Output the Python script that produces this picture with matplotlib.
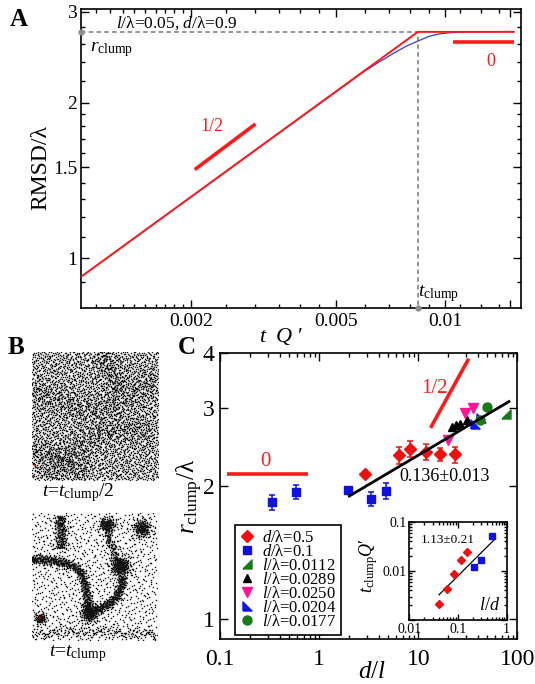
import numpy as np
import matplotlib
matplotlib.use("Agg")
import matplotlib.pyplot as plt
from matplotlib.ticker import NullFormatter, NullLocator, LogLocator

plt.rcParams['font.family'] = ['Liberation Serif', 'DejaVu Serif']
plt.rcParams['mathtext.fontset'] = 'custom'
plt.rcParams['mathtext.rm'] = 'Liberation Serif'
plt.rcParams['mathtext.it'] = 'Liberation Serif:italic'
plt.rcParams['mathtext.bf'] = 'Liberation Serif:bold'

# ---------------- panel A data ----------------
red_t = [0.001, 0.0084, 0.0154]
red_r = [0.921, 2.74, 2.74]
blue_t = [0.001, 0.0060, 0.0066, 0.0072, 0.0078, 0.0084, 0.0090, 0.0096, 0.0103, 0.0115, 0.0154]
blue_r = [0.921, 2.30, 2.40, 2.49, 2.57, 2.63, 2.685, 2.715, 2.73, 2.74, 2.745]
t_clump, r_clump = 0.0084, 2.74
A_half_t = [0.00205, 0.00301]
A_half_r = [1.484, 1.818]
A_zero_t = [0.0105, 0.0154]
A_zero_r = [2.614, 2.614]
A_xlim = (0.001, 0.0161)
A_ylim = (0.8, 3.03)
A_xticks = [0.002, 0.005, 0.01, 0.015]
A_xticklabels = ['0.002', '0.005', '0.01', '']
A_xminor = [0.0011, 0.0012, 0.0013, 0.0014, 0.0015, 0.0016, 0.0017, 0.0018, 0.0019,
            0.0025, 0.003, 0.0035, 0.004, 0.0045, 0.006, 0.007, 0.008, 0.009,
            0.011, 0.0125, 0.014]
A_yticks = [1, 1.5, 2, 3]
A_yticklabels = ['1', '1.5', '2', '3']
A_yminor = [0.9, 1.1, 1.2, 1.3, 1.4, 1.6, 1.7, 1.8, 1.9, 2.2, 2.4, 2.6, 2.8]

# ---------------- panel C data ----------------
d05_x = [2.89, 6.38, 8.24, 11.9, 16.7, 23.6]
d05_y = [2.13, 2.35, 2.43, 2.39, 2.36, 2.36]
d05_err = [0.0, 0.11, 0.10, 0.10, 0.08, 0.10]
d01_x = [0.335, 0.582, 1.96, 3.33, 4.72]
d01_y = [1.84, 1.94, 1.96, 1.87, 1.95]
d01_err = [0.07, 0.07, 0.0, 0.07, 0.08]
l0112_x = [76.9]
l0112_y = [2.91]
l0289_x = [21.7, 24.0, 26.4, 31.3]
l0289_y = [2.73, 2.752, 2.76, 2.825]
l0250_x = [20.1, 29.6, 36.0]
l0250_y = [2.548, 2.925, 3.0]
l0204_x = [37.4, 43.0]
l0204_y = [2.762, 2.849]
l0177_x = [42.0, 49.1]
l0177_y = [2.825, 3.026]
fit_x = [2.01, 82.4]
fit_y = [1.90, 3.11]
C_zero_x = [0.116, 0.763]
C_zero_y = [2.13, 2.13]
C_half_x = [13.3, 32.3]
C_half_y = [2.71, 3.89]
C_xlim = (0.1, 100)
C_ylim = (0.9, 4)
C_yticks = [1, 2, 3, 4]

# inset data
ins_red_x = [0.0413, 0.0586, 0.0828, 0.115, 0.151]
ins_red_y = [0.00216, 0.00424, 0.00885, 0.0171, 0.0244]
ins_blue_x = [0.213, 0.292, 0.507]
ins_blue_y = [0.0122, 0.0164, 0.0525]
ins_fit_x = [0.0407, 0.594]
ins_fit_y = [0.00327, 0.0465]

# ---------------- panel B snapshot layout (normalised, v from top) ----------------
top_uniform_n = 3900
top_bands = [  # (vertices, spread, count)
    ([(0.0, 0.30), (0.25, 0.40), (0.45, 0.47), (0.70, 0.38), (1.0, 0.20)], 0.12, 300),
    ([(0.10, 1.0), (0.35, 0.75), (0.60, 0.58), (0.95, 0.62)], 0.12, 280),
    ([(0.55, 0.0), (0.62, 0.18), (0.70, 0.30)], 0.10, 120),
    ([(0.0, 0.75), (0.20, 0.82), (0.45, 0.95)], 0.10, 150),
]
bot_uniform_n = 1100
bot_bands = [
    ([(0.0, 0.36), (0.15, 0.37), (0.30, 0.40), (0.38, 0.45), (0.42, 0.53),
      (0.44, 0.65), (0.45, 0.78)], 0.036, 720),
    ([(0.45, 0.78), (0.57, 0.74), (0.66, 0.68), (0.71, 0.60), (0.73, 0.50)], 0.036, 420),
    ([(0.56, 0.05), (0.62, 0.20), (0.66, 0.32), (0.71, 0.42)], 0.035, 170),
    ([(0.22, 0.02), (0.24, 0.15), (0.23, 0.28)], 0.05, 230),
    ([(0.0, 0.95), (0.5, 0.93), (1.0, 0.96)], 0.05, 180),
]
bot_blobs = [  # (u, v, sigma, count)
    (0.71, 0.42, 0.04, 280),
    (0.46, 0.79, 0.035, 220),
    (0.61, 0.09, 0.03, 120),
    (0.88, 0.12, 0.038, 190),
    (0.07, 0.83, 0.022, 90),
]
top_red = (0.03, 0.88)
bot_red = (0.07, 0.83)

# deterministic low-discrepancy sequences (no random numbers)
GOLD = [1.61803398874989, 1.32471795724475, 1.22074408460576]


def halton(n, base, start):
    i = np.arange(start, start + n)
    f = np.ones(n)
    r = np.zeros(n)
    while np.any(i > 0):
        f = f / base
        r = r + f * (i % base)
        i = i // base
    return r


def rseq(n, d, start):
    g = GOLD[d - 1]
    alphas = np.array([(1.0 / g) ** (k + 1) for k in range(d)])
    i = np.arange(start, start + n)[:, None]
    return (0.5 + alphas * i) % 1.0


def band_points(verts, width, n, start):
    s = rseq(n, 3, start)
    vx = np.array([p[0] for p in verts])
    vy = np.array([p[1] for p in verts])
    seg = np.hypot(np.diff(vx), np.diff(vy))
    cum = np.concatenate([[0], np.cumsum(seg)])
    t = s[:, 0] * cum[-1]
    px = np.interp(t, cum, vx)
    py = np.interp(t, cum, vy)
    k = np.clip(np.searchsorted(cum, t) - 1, 0, len(seg) - 1)
    nx = -np.diff(vy)[k] / seg[k]
    ny = np.diff(vx)[k] / seg[k]
    off = width * 0.5 * np.sqrt(-2 * np.log(1 - s[:, 1] * 0.999)) * np.cos(2 * np.pi * s[:, 2])
    return px + nx * off, py + ny * off


def blob_points(u0, v0, sigma, n, start):
    a = halton(n, 5, start)
    b = halton(n, 7, start)
    r = sigma * np.sqrt(-2 * np.log(1 - a * 0.999))
    th = 2 * np.pi * b
    return u0 + r * np.cos(th), v0 + r * np.sin(th)


def snapshot(ax, uniform_n, bands, blobs, red, start):
    us = [halton(uniform_n, 2, start)]
    vs = [halton(uniform_n, 3, start)]
    k = start + uniform_n
    for verts, w, n in bands:
        x, y = band_points(verts, w, n, k)
        us.append(x); vs.append(y); k += n
    for u0, v0, sg, n in blobs:
        x, y = blob_points(u0, v0, sg, n, k)
        us.append(x); vs.append(y); k += n
    u = np.concatenate(us); v = np.concatenate(vs)
    keep = (u >= 0) & (u <= 1) & (v >= 0) & (v <= 1)
    ax.plot(u[keep], 1 - v[keep], 's', ms=1.0, mew=0, color='#111111')
    ax.plot([red[0]], [1 - red[1]], 's', ms=1.8, mew=0, color='#cc0000', zorder=3)
    ax.set_xlim(0, 1); ax.set_ylim(0, 1)
    ax.axis('off')


# ---------------- figure ----------------
W, H = 535, 684
fig = plt.figure(figsize=(W / 100, H / 100), dpi=100)


def box(l, t, r, b):
    return [l / W, 1 - b / H, (r - l) / W, (b - t) / H]


def style(ax, size):
    ax.tick_params(which='both', direction='in', top=True, right=True, labelsize=size, width=1.0)
    ax.tick_params(which='major', length=6)
    ax.tick_params(which='minor', length=3)
    for sp in ax.spines.values():
        sp.set_linewidth(1.2)


# ----- A -----
axA = fig.add_axes(box(81.2, 9.3, 520.7, 308.3))
axA.set_xscale('log'); axA.set_yscale('log')
axA.plot([A_xlim[0], t_clump, t_clump], [r_clump, r_clump, A_ylim[0]],
         ls=(0, (2.5, 1.8)), color='#8c8c8c', lw=1.3, zorder=1)
axA.plot([A_xlim[0], t_clump], [r_clump, A_ylim[0]], 'o', color='#8c8c8c', ms=3.5,
         clip_on=False, zorder=4)
axA.plot(blue_t, blue_r, color='#3a3ac8', lw=0.9, zorder=2)
axA.plot(red_t, red_r, color='#ff1a1a', lw=1.4, zorder=3)
axA.plot(A_half_t, A_half_r, color='#ff1a1a', lw=2.6, solid_capstyle='butt')
axA.plot(A_zero_t, A_zero_r, color='#ff1a1a', lw=2.6, solid_capstyle='butt')
axA.text(0.00229, 1.80, '1/2', color='#ff1a1a', fontsize=13, ha='center', va='center')
axA.text(0.01333, 2.40, '0', color='#ff1a1a', fontsize=13, ha='center', va='center')
axA.set_xlim(*A_xlim); axA.set_ylim(*A_ylim)
axA.set_xticks(A_xticks, labels=A_xticklabels)
axA.set_xticks(A_xminor, minor=True)
axA.set_yticks(A_yticks, labels=A_yticklabels)
axA.set_yticks(A_yminor, minor=True)
axA.xaxis.set_minor_formatter(NullFormatter())
axA.yaxis.set_minor_formatter(NullFormatter())
style(axA, 14)
axA.tick_params(axis='x', pad=3.5)
axA.tick_params(axis='y', pad=3)
axA.text(0.0794, 0.953, r'$l$/λ=0.05, $d$/λ=0.9', transform=axA.transAxes,
         fontsize=12.5, ha='left', va='center')
axA.text(0.021, 0.864, r'$r_{\rm clump}$', transform=axA.transAxes,
         fontsize=14, ha='left', va='center')
axA.text(0.767, 0.050, r'$t_{\rm clump}$', transform=axA.transAxes,
         fontsize=14, ha='left', va='center')
axA.set_ylabel('RMSD/λ', fontsize=17)
axA.yaxis.set_label_coords(-0.069, 0.471)
axA.set_xlabel(r'$t\ \ Q$ ′', fontsize=16)
axA.xaxis.set_label_coords(0.456, -0.058)

# ----- B -----
axB1 = fig.add_axes(box(31.7, 351.7, 158.3, 480))
snapshot(axB1, top_uniform_n, top_bands, [], top_red, 1)
axB2 = fig.add_axes(box(31.7, 513, 156.7, 640))
snapshot(axB2, bot_uniform_n, bot_bands, bot_blobs, bot_red, 5001)
fig.text(78 / W, 1 - 493 / H, r'$t$=$t_{\rm clump}$/2', fontsize=14, ha='center', va='center')
fig.text(78 / W, 1 - 654 / H, r'$t$=$t_{\rm clump}$', fontsize=14, ha='center', va='center')

# ----- C -----
axC = fig.add_axes(box(220.3, 353.3, 517.3, 639.3))
axC.set_xscale('log'); axC.set_yscale('log')
tri_se = [(-1, -1), (1, -1), (1, 1), (-1, -1)]
tri_sw = [(-1, -1), (1, -1), (-1, 1), (-1, -1)]
axC.plot(C_zero_x, C_zero_y, color='#ff1a1a', lw=2.6, solid_capstyle='butt')
axC.plot(C_half_x, C_half_y, color='#ff1a1a', lw=2.6, solid_capstyle='butt')
axC.text(0.289, 2.27, '0', color='#ff1a1a', fontsize=15, ha='center', va='center')
axC.text(14.7, 3.33, '1/2', color='#ff1a1a', fontsize=15, ha='center', va='center')
axC.errorbar(d05_x, d05_y, yerr=d05_err, fmt='none', ecolor='#ee1111', elinewidth=1.1,
             capsize=2.5, capthick=1.1)
axC.errorbar(d01_x, d01_y, yerr=d01_err, fmt='none', ecolor='#1010e0', elinewidth=1.1,
             capsize=2.5, capthick=1.1)
h1, = axC.plot(d05_x, d05_y, 'D', color='#ee1111', ms=6.5, ls='none', label=r'$d$/λ=0.5')
h2, = axC.plot(d01_x, d01_y, 's', color='#1010e0', ms=5.5, ls='none', label=r'$d$/λ=0.1')
h3, = axC.plot(l0112_x, l0112_y, marker=tri_se, color='#1a7a1a', ms=6.5, ls='none',
               label=r'$l$/λ=0.0112')
h4, = axC.plot(l0289_x, l0289_y, '^', color='black', ms=6, ls='none', label=r'$l$/λ=0.0289')
h5, = axC.plot(l0250_x, l0250_y, 'v', color='#ff1493', ms=6.5, ls='none', label=r'$l$/λ=0.0250')
h6, = axC.plot(l0204_x, l0204_y, marker=tri_sw, color='#0a14ee', ms=6.5, ls='none',
               label=r'$l$/λ=$0.0204$')
h7, = axC.plot(l0177_x, l0177_y, 'o', color='#1a7a1a', ms=6.5, ls='none', label=r'$l$/λ=0.0177')
axC.plot(fit_x, fit_y, color='black', lw=2.0, zorder=5)
axC.text(6.5, 2.1, '0.136±0.013', fontsize=13, ha='left', va='center')
axC.set_xlim(*C_xlim); axC.set_ylim(*C_ylim)
axC.set_yticks(C_yticks, labels=[str(v) for v in C_yticks])
axC.yaxis.set_minor_locator(NullLocator())
axC.set_xticks([0.1, 1, 10, 100], labels=['0.1', '1', '10', '100'])
axC.xaxis.set_minor_locator(LogLocator(base=10, subs=np.arange(2, 10)))
axC.xaxis.set_minor_formatter(NullFormatter())
style(axC, 17)
axC.tick_params(axis='x', pad=7)
axC.tick_params(axis='y', pad=4)
axC.set_ylabel(r'$r_{\rm clump}$/λ', fontsize=18)
axC.yaxis.set_label_coords(-0.05, 0.5)
axC.set_xlabel(r'$d/l$', fontsize=18)
axC.xaxis.set_label_coords(0.511, -0.075)
leg = axC.legend(handles=[h1, h2, h3, h4, h5, h6, h7], loc='upper left',
                 bbox_to_anchor=(0.0495, 0.3997), borderaxespad=0, fontsize=12,
                 labelspacing=-0.12, handlelength=0.8, handletextpad=0.5,
                 borderpad=0.3, fancybox=False, framealpha=1, edgecolor='black',
                 numpoints=1)
leg.get_frame().set_linewidth(1.2)

# ----- inset -----
axI = fig.add_axes(box(409.3, 522, 506.7, 620))
axI.set_xscale('log'); axI.set_yscale('log')
axI.plot(ins_fit_x, ins_fit_y, color='black', lw=0.9)
axI.plot(ins_red_x, ins_red_y, 'D', color='#ee1111', ms=4.5, ls='none')
axI.plot(ins_blue_x, ins_blue_y, 's', color='#1010e0', ms=4.5, ls='none')
axI.set_xlim(0.01, 1); axI.set_ylim(0.001, 0.1)
axI.set_xticks([0.01, 0.1, 1], labels=['0.01', '0.1', '1'])
axI.set_yticks([0.001, 0.01, 0.1], labels=['', '0.01', '0.1'])
axI.xaxis.set_minor_locator(LogLocator(base=10, subs=np.arange(2, 10)))
axI.yaxis.set_minor_locator(LogLocator(base=10, subs=np.arange(2, 10)))
axI.xaxis.set_minor_formatter(NullFormatter())
axI.yaxis.set_minor_formatter(NullFormatter())
style(axI, 10)
axI.tick_params(which='major', length=4)
axI.tick_params(which='minor', length=2)
axI.tick_params(pad=2)
axI.text(0.117, 0.816, '1.13±0.21', transform=axI.transAxes, fontsize=9.5,
         ha='left', va='center')
axI.text(0.93, 0.15, r'$l/d$', transform=axI.transAxes, fontsize=13, ha='right', va='center')
axI.set_ylabel(r'$t_{\rm clump}Q$′', fontsize=13)
axI.yaxis.set_label_coords(-0.30, 0.56)

# panel letters
fig.text(19 / W, 1 - 20 / H, 'A', fontsize=18, fontweight='bold', ha='center', va='center')
fig.text(16 / W, 1 - 348 / H, 'B', fontsize=18, fontweight='bold', ha='center', va='center')
fig.text(187 / W, 1 - 348 / H, 'C', fontsize=18, fontweight='bold', ha='center', va='center')

fig.savefig('out.png', dpi=100)
